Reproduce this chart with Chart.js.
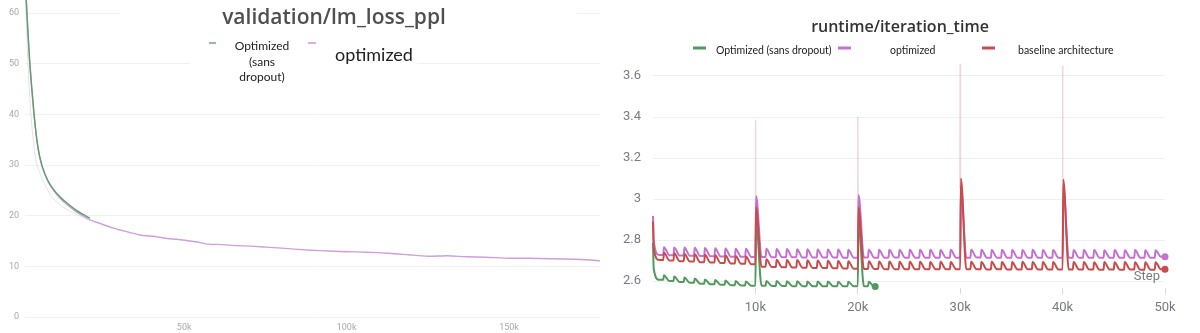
<!DOCTYPE html>
<html>
<head>
<meta charset="utf-8">
<script src="https://cdn.jsdelivr.net/npm/chart.js@4.4.1/dist/chart.umd.min.js"></script>
<style>
  html, body { margin: 0; padding: 0; background: #fff; }
  .panel { position: absolute; top: 0; width: 600px; height: 333px; }
  #leftPanel { left: 0; }
  #rightPanel { left: 600px; }
</style>
</head>
<body>
<div class="panel" id="leftPanel"><canvas id="pplChart"></canvas></div>
<div class="panel" id="rightPanel"><canvas id="iterChart"></canvas></div>
<script>
// ---------- validation/lm_loss_ppl ----------
const pplTitle = 'validation/lm_loss_ppl';
const pplXTicks = [50000, 100000, 150000];
const pplYTicks = [0, 10, 20, 30, 40, 50, 60];

const sansDropoutPplSteps = [1000, 1600, 2500, 3800, 5000, 6200, 8000, 10000, 12000, 13900, 16500, 19000, 21000];
const sansDropoutPpl      = [68, 60, 50, 40, 33.5, 30, 27, 25, 23.6, 22.5, 21.2, 20.2, 19.5];

const optimizedPplSteps = [1000, 1600, 2500, 3800, 5000, 6200, 8000, 10000, 12000, 13900,
  16500, 19000, 21000, 24000, 28000, 32000, 36400, 41000, 45000, 49600,
  54000, 57400, 62000, 66000, 70700, 75000, 80000, 86000, 92000, 100000,
  106000, 113000, 119000, 125000, 131000, 137000, 143000, 150000, 156000, 163000,
  170000, 174000, 178000];
const optimizedPpl = [67.5, 59.6, 49.6, 39.7, 33.3, 29.8, 26.8, 24.8, 23.3, 22.2,
  20.9, 19.9, 19.2, 18.5, 17.6, 16.9, 16.2, 15.9, 15.5, 15.2,
  14.8, 14.4, 14.3, 14.1, 14.0, 13.8, 13.6, 13.3, 13.1, 12.9,
  12.8, 12.6, 12.3, 12.0, 12.1, 11.9, 11.8, 11.6, 11.6, 11.5,
  11.4, 11.3, 11.1];

// faint grey run underneath the early part
const ghostPplSteps = [1000, 1300, 1900, 2800, 3700, 4700, 7200, 9500, 12700, 16000, 19000, 21000];
const ghostPpl      = [64, 60, 50, 40, 34, 30, 26, 23.5, 21.7, 20.5, 19.6, 19.1];

// ---------- runtime/iteration_time ----------
const iterTitle = 'runtime/iteration_time';
const iterXTicks = [10000, 20000, 30000, 40000, 50000];
const iterYTicks = [2.6, 2.8, 3, 3.2, 3.4, 3.6];
const seriesNames = ['Optimized (sans dropout)', 'optimized', 'baseline architecture'];
const seriesColors = ['#4f9a5c', '#c272cf', '#c94c4c'];

// value logged every 1000 steps: level before the bump, then bump height
const sansDropoutTroughs = [2.787,
  2.606, 2.600, 2.595, 2.591, 2.587, 2.584, 2.582, 2.580, 2.578,
  2.577, 2.577, 2.576, 2.576, 2.575, 2.575, 2.575, 2.574, 2.574, 2.574,
  2.574, 2.574, 2.573];
const sansDropoutPeaks = [2.66,
  2.628, 2.622, 2.617, 2.612, 2.608, 2.605, 2.602, 2.600, 2.598,
  2.90, 2.600, 2.600, 2.599, 2.599, 2.598, 2.598, 2.598, 2.597, 2.597,
  2.90, 2.597];
const sansDropoutLastStep = 21700;

const optimizedTroughs = [2.917,
  2.727, 2.726, 2.724, 2.723, 2.722, 2.721, 2.720, 2.719, 2.718,
  2.717, 2.717, 2.716, 2.716, 2.716, 2.715, 2.715, 2.715, 2.715, 2.714,
  2.714, 2.715, 2.714, 2.714, 2.715, 2.714, 2.714, 2.713, 2.714, 2.714,
  2.714, 2.714, 2.715, 2.714, 2.714, 2.713, 2.714, 2.714, 2.713, 2.714,
  2.713, 2.714, 2.714, 2.713, 2.714, 2.714, 2.713, 2.714, 2.713, 2.713,
  2.719];
const optimizedPeaks = [2.80,
  2.765, 2.764, 2.763, 2.762, 2.761, 2.760, 2.759, 2.758, 2.757,
  3.015, 2.757, 2.756, 2.756, 2.755, 2.755, 2.754, 2.754, 2.754, 2.753,
  3.02, 2.753, 2.753, 2.752, 2.753, 2.752, 2.752, 2.752, 2.751, 2.752,
  3.06, 2.752, 2.752, 2.751, 2.752, 2.751, 2.751, 2.752, 2.751, 2.751,
  3.06, 2.751, 2.751, 2.751, 2.750, 2.751, 2.750, 2.751, 2.750, 2.750];

const baselineTroughs = [2.89,
  2.703, 2.700, 2.697, 2.695, 2.692, 2.690, 2.688, 2.686, 2.684,
  2.682, 2.670, 2.668, 2.667, 2.666, 2.665, 2.664, 2.663, 2.662, 2.661,
  2.660, 2.659, 2.659, 2.658, 2.658, 2.658, 2.657, 2.657, 2.657, 2.657,
  2.657, 2.657, 2.657, 2.656, 2.657, 2.656, 2.656, 2.657, 2.656, 2.656,
  2.656, 2.656, 2.656, 2.656, 2.655, 2.656, 2.655, 2.656, 2.655, 2.655,
  2.657];
const baselinePeaks = [2.76,
  2.738, 2.735, 2.732, 2.730, 2.728, 2.726, 2.724, 2.722, 2.720,
  2.96, 2.706, 2.704, 2.703, 2.702, 2.701, 2.700, 2.699, 2.698, 2.697,
  2.96, 2.696, 2.695, 2.695, 2.694, 2.694, 2.694, 2.693, 2.694, 2.693,
  3.10, 2.694, 2.693, 2.694, 2.693, 2.693, 2.694, 2.693, 2.693, 2.693,
  3.095, 2.693, 2.693, 2.692, 2.693, 2.692, 2.693, 2.692, 2.692, 2.692];
const runLastStep = 50000;

// unsmoothed eval-step spikes (faint)
const rawSpikeSteps = [10000, 20000, 30000, 40000];
const rawSpikeTops  = [3.385, 3.40, 3.66, 3.65];
const rawSpikeBases = [2.95, 2.95, 3.05, 3.05];

// ---------- helpers ----------
const CYCLE = 1000;

function toXY(steps, vals) {
  return steps.map((s, i) => ({ x: s, y: vals[i] }));
}

// each cycle: level, sharp bump, back to the next level
function sawtooth(troughs, peaks, lastStep) {
  const pts = [];
  peaks.forEach((p, k) => {
    pts.push({ x: k * CYCLE, y: troughs[k] });
    pts.push({ x: k * CYCLE + 70, y: p });
    pts.push({ x: k * CYCLE + 600, y: troughs[k + 1] });
  });
  pts.push({ x: lastStep, y: troughs[peaks.length] });
  return pts;
}

function spikes(steps, tops, bases) {
  const pts = [];
  steps.forEach((s, i) => {
    pts.push({ x: s - 30, y: bases[i] });
    pts.push({ x: s, y: tops[i] });
    pts.push({ x: s + 30, y: bases[i] });
    pts.push({ x: s + 31, y: null });
  });
  return pts;
}

const kLabel = v => (v / 1000) + 'k';
const lastDot = r => ctx => (ctx.dataIndex === ctx.dataset.data.length - 1 ? r : 0);
const noEdgePad = s => { s.paddingTop = 0; s.paddingBottom = 0; s.paddingLeft = 0; s.paddingRight = 0; };

// ---------- left chart ----------
const pplOverlay = {
  id: 'pplOverlay',
  beforeDatasetsDraw(chart) {
    // text boxes sit on top of the grid
    const c = chart.ctx;
    c.save();
    c.fillStyle = '#fff';
    c.fillRect(120, 0, 457, 30);
    c.fillRect(190, 30, 227, 62);
    c.restore();
  },
  afterDraw(chart) {
    const c = chart.ctx;
    c.save();
    c.fillStyle = '#4f4f4f';
    c.font = '600 21px "Open Sans"';
    c.textAlign = 'center';
    c.textBaseline = 'alphabetic';
    c.fillText(pplTitle, 334, 24);

    c.strokeStyle = '#6aa77a';
    c.lineWidth = 1.5;
    c.beginPath(); c.moveTo(209, 43); c.lineTo(216, 43); c.stroke();
    c.strokeStyle = '#c99ad6';
    c.beginPath(); c.moveTo(308, 43); c.lineTo(316, 43); c.stroke();

    c.fillStyle = '#222';
    c.font = '12px Lato';
    c.textBaseline = 'middle';
    c.fillText('Optimized', 262, 46);
    c.fillText('(sans', 262, 62);
    c.fillText('dropout)', 262, 77);
    c.font = '18px Lato';
    c.textAlign = 'left';
    c.fillText('optimized', 335, 55);
    c.restore();
  }
};

new Chart(document.getElementById('pplChart'), {
  type: 'line',
  data: {
    datasets: [
      { data: toXY(sansDropoutPplSteps, sansDropoutPpl), borderColor: '#5e9f6f', borderWidth: 1.4, order: 1 },
      { data: toXY(optimizedPplSteps, optimizedPpl), borderColor: '#cf9fdc', borderWidth: 1.4, order: 2 },
      { data: toXY(ghostPplSteps, ghostPpl), borderColor: '#e3e3e3', borderWidth: 1, order: 3 }
    ]
  },
  options: {
    responsive: true,
    maintainAspectRatio: false,
    animation: false,
    layout: { padding: 0 },
    elements: { point: { radius: 0 }, line: { tension: 0.2 } },
    plugins: { legend: { display: false }, tooltip: { enabled: false } },
    scales: {
      x: {
        type: 'linear', min: 1000, max: 178000,
        afterBuildTicks: s => { s.ticks = pplXTicks.map(v => ({ value: v })); },
        afterFit: s => { s.height = 16; noEdgePad(s); },
        grid: { display: false },
        border: { display: false },
        ticks: { callback: kLabel, color: '#a8a8a8', font: { size: 9, family: 'Roboto' }, padding: -3, maxRotation: 0 }
      },
      y: {
        min: 0, max: 62.6,
        afterBuildTicks: s => { s.ticks = pplYTicks.map(v => ({ value: v })); },
        afterFit: s => { s.width = 25; noEdgePad(s); },
        grid: { color: '#f1f1f1', drawTicks: false },
        border: { display: false },
        ticks: { color: '#a8a8a8', font: { size: 9, family: 'Roboto' }, padding: 6 }
      }
    }
  },
  plugins: [pplOverlay]
});

// ---------- right chart ----------
const iterOverlay = {
  id: 'iterOverlay',
  afterDraw(chart) {
    const c = chart.ctx;
    c.save();
    c.fillStyle = '#333';
    c.font = '600 16px "Open Sans"';
    c.textAlign = 'center';
    c.textBaseline = 'alphabetic';
    c.fillText(iterTitle, 300, 32);

    const dashX = [93, 238, 382];
    const textX = [116, 290, 418];
    c.lineWidth = 3;
    c.font = '10.5px Lato';
    c.textAlign = 'left';
    c.textBaseline = 'middle';
    seriesNames.forEach((name, i) => {
      c.strokeStyle = seriesColors[i];
      c.beginPath(); c.moveTo(dashX[i], 48); c.lineTo(dashX[i] + 13, 48); c.stroke();
      c.fillStyle = '#222';
      c.fillText(name, textX[i], 50.5);
    });

    c.fillStyle = '#7a7a85';
    c.font = '13px Roboto';
    c.textAlign = 'right';
    c.fillText('Step', 560, 277);
    c.restore();
  }
};

const lineStyle = (color, order) => ({
  borderColor: color,
  backgroundColor: color,
  borderWidth: 2,
  pointRadius: lastDot(3.5),
  pointBorderWidth: 0,
  cubicInterpolationMode: 'monotone',
  clip: false,
  order
});

new Chart(document.getElementById('iterChart'), {
  type: 'line',
  data: {
    datasets: [
      { data: sawtooth(sansDropoutTroughs, sansDropoutPeaks, sansDropoutLastStep), ...lineStyle(seriesColors[0], 3) },
      { data: sawtooth(optimizedTroughs, optimizedPeaks, runLastStep), ...lineStyle(seriesColors[1], 2) },
      { data: sawtooth(baselineTroughs, baselinePeaks, runLastStep), ...lineStyle(seriesColors[2], 1) },
      { data: spikes(rawSpikeSteps, rawSpikeTops, rawSpikeBases), borderColor: 'rgba(205,120,150,0.3)',
        borderWidth: 1.5, pointRadius: 0, spanGaps: false, order: 10 }
    ]
  },
  options: {
    responsive: true,
    maintainAspectRatio: false,
    animation: false,
    layout: { padding: { top: 60, right: 35, left: 0, bottom: 0 } },
    plugins: { legend: { display: false }, tooltip: { enabled: false } },
    scales: {
      x: {
        type: 'linear', min: 0, max: 50000,
        afterBuildTicks: s => { s.ticks = iterXTicks.map(v => ({ value: v })); },
        afterFit: s => { s.height = 45; },
        grid: { drawOnChartArea: false, drawTicks: true, tickLength: 6, color: '#dadada' },
        border: { display: false },
        ticks: { callback: kLabel, color: '#7a7a85', font: { size: 13, family: 'Roboto' }, padding: 6, maxRotation: 0 }
      },
      y: {
        min: 2.566, max: 3.678,
        afterBuildTicks: s => { s.ticks = iterYTicks.map(v => ({ value: v })); },
        afterFit: s => { s.width = 53; },
        grid: { color: '#efefef', drawTicks: false },
        border: { display: false },
        ticks: { callback: v => String(Math.round(v * 10) / 10), color: '#7a7a85',
          font: { size: 13, family: 'Roboto' }, padding: 12 }
      }
    }
  },
  plugins: [iterOverlay]
});
</script>
</body>
</html>
